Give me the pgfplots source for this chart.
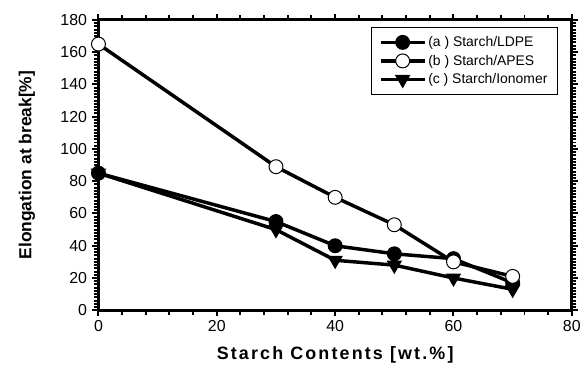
\documentclass[border=0pt]{standalone}
\usepackage{pgfplots}
\pgfplotsset{compat=1.18}
\usepackage{fontspec}
\setmainfont{Liberation Sans}
\newfontfamily\spaced[LetterSpace=12]{Liberation Sans}
\begin{document}
\begin{tikzpicture}
\begin{axis}[
  scale only axis,
  width=476pt, height=292pt,
  xmin=0, xmax=80, ymin=0, ymax=180,
  xtick={0,20,...,80}, ytick={0,20,...,180},
  minor x tick num=4, minor y tick num=9,
  tick align=outside,
  major tick length=6pt, minor tick length=4.5pt,
  tick style={line width=2pt, black},
  axis line style={line width=3pt},
  /pgf/number format/assume math mode=true,
  ticklabel style={font=\fontsize{16}{18}\selectfont},
  yticklabel style={xshift=-2pt},
  xticklabel style={yshift=-1pt},
  xlabel={\spaced\bfseries Starch Contents [wt.\%]},
  ylabel={\bfseries Elongation at break[\%]},
  xlabel style={at={(axis description cs:0.5,-0.154)}, anchor=center, font=\fontsize{18}{20}\selectfont},
  ylabel style={at={(axis description cs:-0.151,0.5)}, anchor=center, rotate=0, font=\fontsize{17.5}{20}\selectfont},
  legend style={at={(rel axis cs:0.9705,0.975)}, anchor=north east, draw=black, line width=1pt,
    font=\fontsize{14}{16}\selectfont, row sep=3pt, inner xsep=8pt, inner ysep=7pt},
  legend cell align=left,
  legend image code/.code={\draw[#1, mark repeat=2, mark phase=2] plot coordinates {(0pt,0pt) (22pt,0pt) (44pt,0pt)};},
  clip=false,
]
\path (rel axis cs:-0.20798,-0.21575) rectangle (rel axis cs:1.01891,1.06849);
\addplot[black, line width=3.5pt, mark=*, mark size=7pt, mark options={line width=1pt}]
 coordinates {(0,85) (30,55) (40,40) (50,35) (60,32) (70,17)};
\addlegendentry{(a ) Starch/LDPE}
\addplot[black, line width=3.5pt, mark=*, mark size=7pt, mark options={fill=white, line width=1pt}]
 coordinates {(0,165) (30,89) (40,70) (50,53) (60,30) (70,21)};
\addlegendentry{(b ) Starch/APES}
\addplot[black, line width=3.5pt, mark=triangle*, mark size=8pt, mark options={rotate=180, line width=1pt}]
 coordinates {(0,85) (30,50) (40,31) (50,28) (60,20) (70,13)};
\addlegendentry{(c ) Starch/Ionomer}
\end{axis}
\end{tikzpicture}
\end{document}
